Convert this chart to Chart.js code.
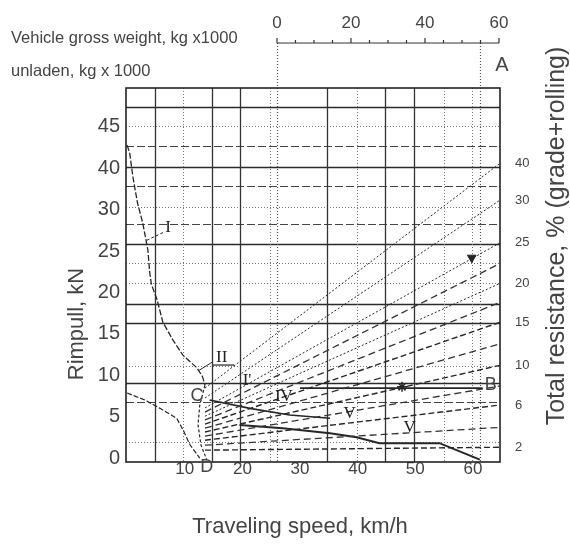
<!DOCTYPE html>
<html>
<head>
<meta charset="utf-8">
<title>Rimpull - speed - total resistance</title>
<script src="https://cdn.jsdelivr.net/npm/chart.js@4.4.1/dist/chart.umd.min.js"></script>
<style>
  html, body { margin: 0; padding: 0; background: #fff; }
  canvas { display: block; }
</style>
</head>
<body>
<canvas id="myChart" width="570" height="547"></canvas>
<script>
// ---- axis labels
const rimpullTicks = [0, 5, 10, 15, 20, 25, 30, 40, 45];   // kN, printed evenly spaced
const speedTicks = [10, 20, 30, 40, 50, 60];                // km/h
const weightTicks = [0, 20, 40, 60];                        // kg x 1000

// ---- total resistance lines, % (grade + rolling)
const resistLabels = [40, 30, 25, 20, 15, 10, 6, 2];
const resistStartPull = [8.45, 7.25, 6.05, 5.05, 4.1, 3.15, 2.15, 0.95];
const resistEndPull = [40.6, 32.3, 26.0, 21.1, 16.4, 11.2, 6.4, 1.3];
const midStartPull = [5.55, 4.6, 3.6, 2.65, 1.55];
const midEndPull = [23.5, 18.8, 13.8, 8.7, 3.7];
const fanSpeed = [13.5, 64.7];

// ---- rimpull curves
const gear1Speed = [0, 0.45, 1.0, 1.8, 2.7, 3.2, 3.6, 3.9, 4.2, 5.2, 6.2, 7.9, 9.7, 12.1, 13.1, 13.5];
const gear1Pull = [42.8, 41.8, 37.9, 31.6, 28.4, 26.6, 25.1, 22.5, 21.0, 19.1, 16.4, 14.3, 12.4, 10.9, 9.8, 8.8];
const unladenSpeed = [0, 3.1, 5.7, 8.6, 9.7, 10.9, 12.6];
const unladenPull = [7.85, 7.0, 6.0, 4.8, 3.4, 1.6, 0];
const edgeSpeed = [13.5, 12.6, 12.3, 12.8, 13.8];
const edgePull = [8.8, 6.4, 4.0, 1.6, -0.2];
const gear4Speed = [14.3, 21.3, 28.2, 35.2];
const gear4Pull = [7.0, 6.0, 5.2, 4.8];
const gear5Speed = [19.5, 27.0, 35.2, 39.8, 43.8, 54.2, 61.2];
const gear5Pull = [4.0, 3.6, 3.0, 2.5, 1.8, 1.8, -0.2];
const lineBSpeed = [30, 61.7];
const lineBPull = [8.45, 8.45];
const leaderISpeed = [3.4, 6.4];
const leaderIPull = [26.3, 27.3];
const leaderIISpeed = [12.5, 14.8];
const leaderIIPull = [10.6, 11.6];
const arrowMark = [{ x: 59.8, y: 24.2 }];
const starMark = [{ x: 47.7, y: 8.6 }];

// ---- paper grid
const pullGridSolid = [47.4, 40.1, 25.8, 18.6, 16.3, 9.1];
const pullGridDashed = [42.7, 35.7, 28.3, 6.8];
const pullGridDotted = [45.1, 30.6, 23.5, 21.1, 11.1, 1.9];
const speedGridSolid = [4.8, 14.7, 19.6, 34.7, 44.8, 49.7];
const speedGridDotted = [9.7, 24.8, 39.8, 54.9, 59.8];
const weightMarks = [0, 55];

// ---- letters on the chart
const gearNotes = [
  { text: 'I', x: 7.1, y: 27.9 },
  { text: 'II', x: 16.4, y: 12.2, underline: true },
  { text: "I'", x: 20.8, y: 9.4 },
  { text: 'IV', x: 27.2, y: 7.4 },
  { text: 'V', x: 38.6, y: 5.4 },
  { text: 'V', x: 49.0, y: 3.7 }
];
const pointNotes = [
  { text: 'C', x: 12.1, y: 7.5 },
  { text: 'D', x: 13.8, y: -1.1 },
  { text: 'B', x: 63.1, y: 8.8 }
];

const SANS = '"Liberation Sans", Arial, sans-serif';
const SERIF = '"Liberation Serif", "Times New Roman", serif';
const INK = '#262626';
const TEXT = '#444';

Chart.defaults.font.family = SANS;
Chart.defaults.color = TEXT;

// rimpull scale: labels sit at even steps, linear between two labels
class StepScale extends Chart.LinearScale {
  static id = 'step';
  static defaults = Chart.LinearScale.defaults;
  slotOf(v) {
    const s = this.options.steps;
    let i = 0;
    while (i < s.length - 2 && v > s[i + 1]) i++;
    return i + (v - s[i]) / (s[i + 1] - s[i]);
  }
  getPixelForValue(v) {
    if (v === null || v === undefined || isNaN(v)) return NaN;
    const lo = this.slotOf(this.min), hi = this.slotOf(this.max);
    return this.getPixelForDecimal((this.slotOf(v) - lo) / (hi - lo));
  }
  getValueForPixel(p) {
    const s = this.options.steps;
    const lo = this.slotOf(this.min), hi = this.slotOf(this.max);
    const slot = lo + this.getDecimalForPixel(p) * (hi - lo);
    const i = Math.max(0, Math.min(s.length - 2, Math.floor(slot)));
    return s[i] + (slot - i) * (s[i + 1] - s[i]);
  }
}
Chart.register(StepScale);

function pairUp(xs, ys) {
  return xs.map((v, i) => ({ x: v, y: ys[i] }));
}

function curve(xs, ys, width, dash) {
  return { data: pairUp(xs, ys), borderColor: INK, borderWidth: width, borderDash: dash || [], pointRadius: 0, tension: 0 };
}

const datasets = [];
resistLabels.forEach((r, i) => {
  const fine = r >= 20;
  datasets.push({
    data: pairUp(fanSpeed, [resistStartPull[i], resistEndPull[i]]),
    borderColor: INK, borderWidth: fine ? 1 : 1.4, borderDash: fine ? [2, 2] : [6, 3], pointRadius: 0
  });
});
midEndPull.forEach((v, i) => {
  datasets.push({
    data: pairUp(fanSpeed, [midStartPull[i], v]),
    borderColor: '#333', borderWidth: 1.3, borderDash: [7, 4], pointRadius: 0
  });
});
datasets.push(curve(gear1Speed, gear1Pull, 1.3, [6, 2]));
datasets.push(curve(unladenSpeed, unladenPull, 1.2, [5, 2]));
datasets.push(curve(edgeSpeed, edgePull, 1.2, [3, 2]));
datasets.push(curve(gear4Speed, gear4Pull, 1.6));
datasets.push(curve(gear5Speed, gear5Pull, 2));
datasets.push(curve(lineBSpeed, lineBPull, 1.8));
datasets.push(curve(leaderISpeed, leaderIPull, 1, [3, 2]));
datasets.push(curve(leaderIISpeed, leaderIIPull, 1));
datasets.push({ data: arrowMark, showLine: false, pointStyle: 'triangle', rotation: 180, pointRadius: 5, pointBackgroundColor: INK, pointBorderColor: INK });
datasets.push({ data: starMark, showLine: false, pointStyle: 'star', pointRadius: 5, pointBorderColor: INK, pointBorderWidth: 1.5 });

// grid lines of the paper, drawn under the curves
const paperGrid = {
  id: 'paperGrid',
  beforeDatasetsDraw(chart) {
    const { ctx, chartArea: a, scales: { x, y, xTop } } = chart;
    ctx.save();
    const hLine = (v, dash, w, c) => {
      const py = Math.round(y.getPixelForValue(v)) + 0.5;
      ctx.beginPath(); ctx.setLineDash(dash); ctx.lineWidth = w; ctx.strokeStyle = c;
      ctx.moveTo(a.left, py); ctx.lineTo(a.right, py); ctx.stroke();
    };
    const vLine = (px, top, dash, w, c) => {
      px = Math.round(px) + 0.5;
      ctx.beginPath(); ctx.setLineDash(dash); ctx.lineWidth = w; ctx.strokeStyle = c;
      ctx.moveTo(px, top); ctx.lineTo(px, a.bottom); ctx.stroke();
    };
    pullGridDotted.forEach(v => hLine(v, [1, 2], 1, '#777'));
    pullGridDashed.forEach(v => hLine(v, [8, 3], 1.2, '#444'));
    pullGridSolid.forEach(v => hLine(v, [], 1.5, '#2a2a2a'));
    speedGridDotted.forEach(v => vLine(x.getPixelForValue(v), a.top, [1, 2], 1, '#777'));
    speedGridSolid.forEach(v => vLine(x.getPixelForValue(v), a.top, [], 1.3, '#333'));
    weightMarks.forEach(w => vLine(xTop.getPixelForValue(w), a.top - 45, [1, 2], 1.2, '#555'));
    ctx.setLineDash([]);
    ctx.lineWidth = 1.6; ctx.strokeStyle = '#222';
    ctx.strokeRect(a.left, a.top, a.right - a.left, a.bottom - a.top);
    ctx.restore();
  }
};

// weight scale, titles and letters
const chartNotes = {
  id: 'chartNotes',
  afterDraw(chart) {
    const { ctx, chartArea: a, scales: { x, y, xTop } } = chart;
    ctx.save();
    ctx.fillStyle = TEXT;
    ctx.textBaseline = 'middle';

    // gross weight scale above the frame
    const axisY = a.top - 45;
    const w0 = xTop.getPixelForValue(weightTicks[0]);
    const w1 = xTop.getPixelForValue(weightTicks[weightTicks.length - 1]);
    ctx.strokeStyle = '#333'; ctx.lineWidth = 1.2;
    ctx.beginPath();
    ctx.moveTo(w0, axisY); ctx.lineTo(w1, axisY);
    for (let w = 0; w <= 60; w += 5) {
      const px = xTop.getPixelForValue(w);
      ctx.moveTo(px, axisY); ctx.lineTo(px, axisY - (w % 20 ? 3 : 5));
    }
    ctx.stroke();
    ctx.font = '17px ' + SANS; ctx.textAlign = 'center';
    weightTicks.forEach(w => ctx.fillText(String(w), xTop.getPixelForValue(w), axisY - 20));
    ctx.font = '20px ' + SANS;
    ctx.fillText('A', w1 + 3, a.top - 23);

    ctx.font = '16.5px ' + SANS; ctx.textAlign = 'left';
    ctx.fillText('Vehicle gross weight, kg x1000', 11, 38);
    ctx.fillText('unladen, kg x 1000', 11, 71);

    ctx.font = '22px ' + SANS; ctx.textAlign = 'center';
    ctx.fillText('Traveling speed, km/h', 300, 527);

    ctx.save();
    ctx.translate(77, 324); ctx.rotate(-Math.PI / 2);
    ctx.font = '22px ' + SANS;
    ctx.fillText('Rimpull, kN', 0, 0);
    ctx.restore();

    ctx.save();
    ctx.translate(557, 236); ctx.rotate(-Math.PI / 2);
    ctx.font = '25px ' + SANS;
    ctx.fillText('Total resistance, % (grade+rolling)', 0, 0);
    ctx.restore();

    // gear numbers
    ctx.font = '17px ' + SERIF; ctx.fillStyle = '#222';
    gearNotes.forEach(n => {
      const px = x.getPixelForValue(n.x), py = y.getPixelForValue(n.y);
      ctx.fillText(n.text, px, py);
      if (n.underline) {
        const half = ctx.measureText(n.text).width / 2 + 3;
        ctx.beginPath(); ctx.lineWidth = 1.2; ctx.strokeStyle = '#222';
        ctx.moveTo(px - half, py + 8); ctx.lineTo(px + half + 4, py + 8); ctx.stroke();
      }
    });
    ctx.font = '18px ' + SANS; ctx.fillStyle = TEXT;
    pointNotes.forEach(n => ctx.fillText(n.text, x.getPixelForValue(n.x), y.getPixelForValue(n.y)));
    ctx.restore();
  }
};

const ctx = document.getElementById('myChart');
new Chart(ctx, {
  type: 'line',
  data: { datasets: datasets },
  options: {
    responsive: false,
    animation: false,
    events: [],
    layout: { padding: { top: 88, left: 0, right: 0, bottom: 0 } },
    plugins: { legend: { display: false }, tooltip: { enabled: false } },
    scales: {
      x: {
        type: 'linear', min: -0.2, max: 64.7,
        afterBuildTicks: s => { s.ticks = speedTicks.map(v => ({ value: v })); },
        afterFit: s => { s.height = 85; },
        grid: { display: false, drawTicks: false },
        border: { display: false },
        ticks: { font: { size: 17 }, color: TEXT, padding: -3, maxRotation: 0, autoSkip: false }
      },
      xTop: {
        type: 'linear', position: 'top', display: false, min: -40.8, max: 60.27
      },
      y: {
        type: 'step', steps: rimpullTicks, min: -0.48, max: 49.7, bounds: 'data',
        afterBuildTicks: s => { s.ticks = rimpullTicks.map(v => ({ value: v })); },
        afterFit: s => { s.width = 126; },
        grid: { display: false, drawTicks: false },
        border: { display: false },
        ticks: { font: { size: 20 }, color: TEXT, padding: 6, autoSkip: false }
      },
      yRight: {
        type: 'step', position: 'right', steps: rimpullTicks, min: -0.48, max: 49.7, bounds: 'data',
        afterBuildTicks: s => { s.ticks = resistEndPull.map(v => ({ value: v })); },
        afterFit: s => { s.width = 70; },
        grid: { display: false, drawTicks: false },
        border: { display: false },
        ticks: { font: { size: 13 }, color: TEXT, padding: 15, autoSkip: false,
                 callback: (v, i) => String(resistLabels[i]) }
      }
    }
  },
  plugins: [paperGrid, chartNotes]
});
</script>
</body>
</html>
